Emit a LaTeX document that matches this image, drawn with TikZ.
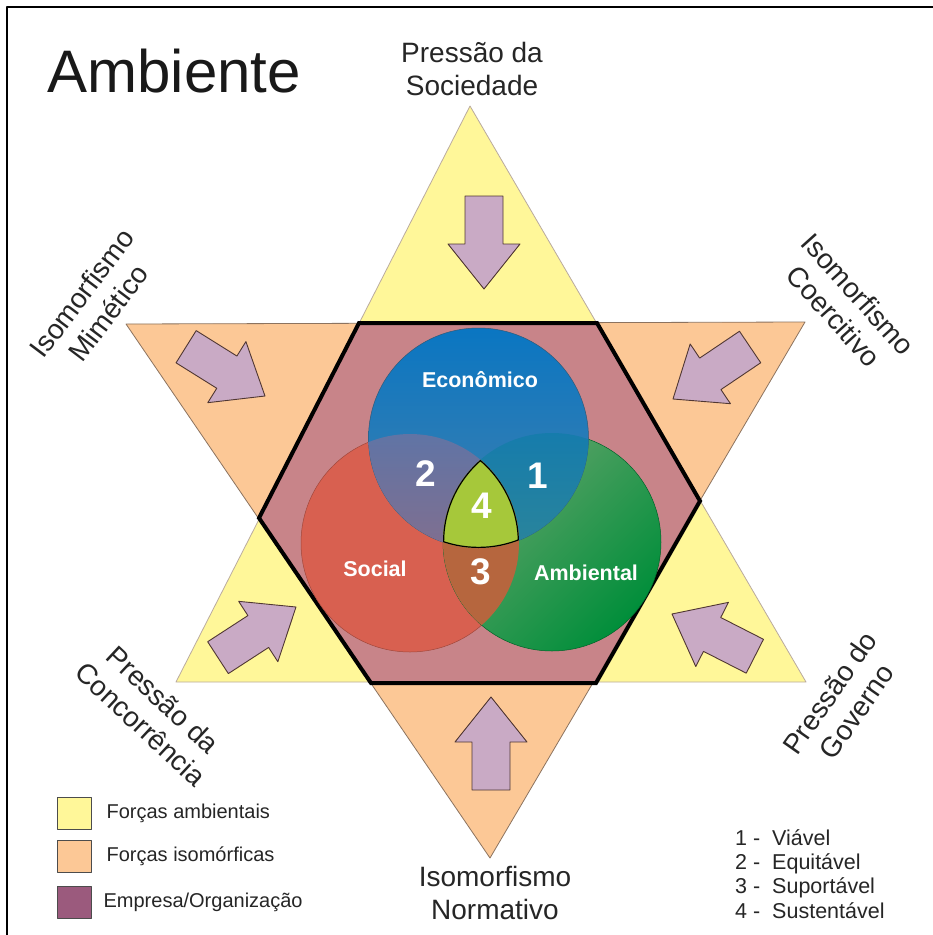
\documentclass[tikz,border=0pt]{standalone}
\usepackage{fontspec}
\setmainfont{Liberation Sans}
\usetikzlibrary{positioning}

\definecolor{amarelo}{RGB}{255,247,153}
\definecolor{laranja}{RGB}{252,200,150}
\definecolor{rosa}{RGB}{200,132,137}
\definecolor{lilas}{RGB}{201,170,197}
\definecolor{roxo}{RGB}{155,90,125}
\definecolor{azulA}{RGB}{10,118,194}
\definecolor{azulB}{RGB}{68,128,172}
\definecolor{vermelho}{RGB}{216,96,80}
\definecolor{verdeA}{RGB}{105,165,110}
\definecolor{verdeB}{RGB}{0,142,58}
\definecolor{cinzaA}{RGB}{96,116,165}
\definecolor{cinzaB}{RGB}{158,106,124}
\definecolor{tealA}{RGB}{22,124,172}
\definecolor{tealB}{RGB}{60,140,140}
\definecolor{marrom}{RGB}{182,102,62}
\definecolor{limao}{RGB}{166,200,58}
\definecolor{bordaA}{RGB}{140,115,95}
\definecolor{bordaS}{RGB}{80,55,50}

\begin{document}
\begin{tikzpicture}[x=1pt,y=-1pt,line join=round,
  forca/.style={fill=amarelo,draw=bordaA!60,line width=0.8pt},
  iso/.style={fill=laranja,draw=bordaA,line width=0.8pt},
  setapath/.style={fill=lilas,draw=bordaS,line width=0.9pt},
  rotulo/.style={font=\fontsize{28}{33}\selectfont,align=center,text=black!85},
  esfera/.style={font=\bfseries\fontsize{21.5}{24}\selectfont,text=white},
  numero/.style={font=\bfseries\fontsize{37}{40}\selectfont,text=white},
  legbox/.style={draw=black!70,line width=0.8pt,minimum width=34pt,minimum height=32pt,inner sep=0pt},
  legtxt/.style={font=\fontsize{20}{24}\selectfont,text=black!85,inner sep=2pt},
  pics/setaforca/.style={code={\draw[setapath] (0,0) -- (-45,-36) -- (-45,-19) -- (-93,-19) -- (-93,19) -- (-45,19) -- (-45,36) -- cycle;}}]
\useasboundingbox (0,0) rectangle (933,935);
\fill[white] (0,0) rectangle (933,935);
\draw[line width=1.8pt] (7,935) -- (7,7) -- (933,7);

\node[anchor=base west,font=\fontsize{60}{64}\selectfont,text=black!90] (titulo) at (44,92) {Ambiente};

% estrela
\draw[forca] (470,106) -- (806,682) -- (176,682) -- cycle;
\draw[iso] (126,324) -- (805,322) -- (490,858) -- cycle;
\draw[fill=rosa,line width=4pt,line join=miter] (359,323) -- (597,323) -- (700,501) -- (596,683) -- (371,683) -- (259,518) -- cycle;

\pic[rotate=-90] at (484,289) {setaforca};
\pic[rotate=-32] at (265,396) {setaforca};
\pic[rotate=-146] at (673,399) {setaforca};
\pic[rotate=33] at (296,607) {setaforca};
\pic[rotate=153] at (672,614) {setaforca};
\pic[rotate=90] at (491,697) {setaforca};

% circulos
\coordinate (eco) at (478.5,438);
\coordinate (soc) at (410,543);
\coordinate (amb) at (552,542);
\fill[vermelho,draw=vermelho!75!black,line width=0.5pt] (soc) circle[radius=109pt];
\shade[top color=verdeA,bottom color=verdeB,shading angle=45,draw=verdeB!70!black,line width=0.5pt] (amb) circle[radius=109pt];
\shade[top color=azulA,bottom color=azulB,draw=azulB!70!black,line width=0.5pt] (eco) circle[radius=110pt];
\begin{scope}
  \clip (eco) circle[radius=110pt];
  \shade[top color=cinzaA,bottom color=cinzaB] (soc) circle[radius=109pt];
  \shade[top color=tealA,bottom color=tealB] (amb) circle[radius=109pt];
\end{scope}
\begin{scope}
  \clip (soc) circle[radius=109pt];
  \fill[marrom] (amb) circle[radius=109pt];
\end{scope}
\begin{scope}
  \clip (eco) circle[radius=110pt];
  \clip (soc) circle[radius=109pt];
  \clip (amb) circle[radius=109pt];
  \fill[limao] (amb) circle[radius=109pt];
  \draw[line width=2.4pt] (eco) circle[radius=110pt] (soc) circle[radius=109pt] (amb) circle[radius=109pt];
\end{scope}

\node[esfera] (economico) at (480,380) {Econômico};
\node[esfera] (social) at (375,569) {Social};
\node[esfera] (ambiental) at (586,573) {Ambiental};
\node[numero] (n1) at (538,476) {1};
\node[numero] (n2) at (426,474) {2};
\node[numero] (n3) at (481,572) {3};
\node[numero] (n4) at (482,506) {4};

% rotulos das forcas
\node[rotulo] (sociedade) at (472,69) {Pressão da\\Sociedade};
\node[rotulo,rotate=53] (mimetico) at (95,303) {Isomorfismo\\Mimético};
\node[rotulo,rotate=-48] (coercitivo) at (846,305) {Isomorfismo\\Coercitivo};
\node[rotulo,rotate=-43] (concorrencia) at (152,712) {Pressão da\\Concorrência};
\node[rotulo,rotate=55] (governo) at (843,702) {Pressão do\\Governo};
\node[rotulo] (normativo) at (495,893) {Isomorfismo\\Normativo};

% legenda
\node[legbox,fill=amarelo] (legforca) at (74,813) {};
\node[legtxt,right=13pt of legforca] (txtforca) {Forças ambientais};
\node[legbox,fill=laranja] (legiso) at (74,856) {};
\node[legtxt,right=13pt of legiso] (txtiso) {Forças isomórficas};
\node[legbox,fill=roxo] (legemp) at (74,902) {};
\node[legtxt,right=10pt of legemp] (txtemp) {Empresa/Organização};

\node[legtxt,font=\fontsize{21.5}{24}\selectfont,anchor=base west] (viavel) at (733,845) {1 -\ \ Viável};
\node[legtxt,font=\fontsize{21.5}{24}\selectfont,anchor=base west] (equitavel) at (733,869) {2 -\ \ Equitável};
\node[legtxt,font=\fontsize{21.5}{24}\selectfont,anchor=base west] (suportavel) at (733,893) {3 -\ \ Suportável};
\node[legtxt,font=\fontsize{21.5}{24}\selectfont,anchor=base west] (sustentavel) at (733,918) {4 -\ \ Sustentável};
\end{tikzpicture}
\end{document}
